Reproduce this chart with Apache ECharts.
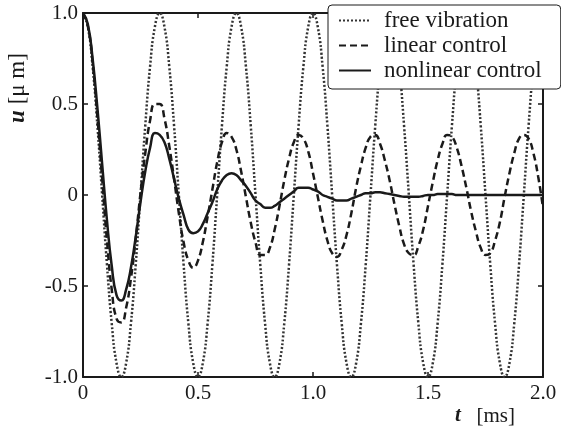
<!DOCTYPE html>
<html>
<head>
<meta charset="utf-8">
<script src="https://cdn.jsdelivr.net/npm/echarts@6/dist/echarts.min.js"></script>
<style>
  html, body { margin: 0; padding: 0; background: #fff; }
  #chart { width: 561px; height: 428px; }
</style>
</head>
<body>
<div id="chart"></div>
<script>
// time samples [ms]
const times = [0, 0.0208, 0.0417, 0.0625, 0.0833, 0.1042, 0.125, 0.1458, 0.1667, 0.1875, 0.2083, 0.2292,
  0.25, 0.2708, 0.2917, 0.3125, 0.3333, 0.3542, 0.375, 0.3958, 0.4167, 0.4375, 0.4583, 0.4792,
  0.5, 0.5208, 0.5417, 0.5625, 0.5833, 0.6042, 0.625, 0.6458, 0.6667, 0.6875, 0.7083, 0.7292,
  0.75, 0.7708, 0.7917, 0.8125, 0.8333, 0.8542, 0.875, 0.8958, 0.9167, 0.9375, 0.9583, 0.9792,
  1.0, 1.0208, 1.0417, 1.0625, 1.0833, 1.1042, 1.125, 1.1458, 1.1667, 1.1875, 1.2083, 1.2292,
  1.25, 1.2708, 1.2917, 1.3125, 1.3333, 1.3542, 1.375, 1.3958, 1.4167, 1.4375, 1.4583, 1.4792,
  1.5, 1.5208, 1.5417, 1.5625, 1.5833, 1.6042, 1.625, 1.6458, 1.6667, 1.6875, 1.7083, 1.7292,
  1.75, 1.7708, 1.7917, 1.8125, 1.8333, 1.8542, 1.875, 1.8958, 1.9167, 1.9375, 1.9583, 1.9792, 2.0]

// u [um]
const freeVibration = [
  1, 0.924, 0.707, 0.383, 0, -0.383, -0.707, -0.924, -1, -0.924, -0.707, -0.383, 0, 0.383, 0.707, 0.924,
  1, 0.924, 0.707, 0.383, 0, -0.383, -0.707, -0.924, -1, -0.924, -0.707, -0.383, 0, 0.383, 0.707, 0.924,
  1, 0.924, 0.707, 0.383, 0, -0.383, -0.707, -0.924, -1, -0.924, -0.707, -0.383, 0, 0.383, 0.707, 0.924,
  1, 0.924, 0.707, 0.383, 0, -0.383, -0.707, -0.924, -1, -0.924, -0.707, -0.383, 0, 0.383, 0.707, 0.924,
  1, 0.924, 0.707, 0.383, 0, -0.383, -0.707, -0.924, -1, -0.924, -0.707, -0.383, 0, 0.383, 0.707, 0.924,
  1, 0.924, 0.707, 0.383, 0, -0.383, -0.707, -0.924, -1, -0.924, -0.707, -0.383, 0, 0.383, 0.707, 0.924,
  1]

const linearControl = [
  1.0, 0.93, 0.73, 0.43, 0.09, -0.25, -0.52, -0.68, -0.70, -0.62, -0.46, -0.24,
  0.01, 0.23, 0.41, 0.50, 0.50, 0.42, 0.27, 0.09, -0.10, -0.26, -0.36, -0.40,
  -0.36, -0.26, -0.12, 0.03, 0.18, 0.29, 0.34, 0.32, 0.25, 0.13, -0.01, -0.15,
  -0.26, -0.33, -0.33, -0.29, -0.19, -0.06, 0.08, 0.20, 0.29, 0.33, 0.31, 0.24,
  0.12, -0.01, -0.14, -0.25, -0.32, -0.34, -0.30, -0.22, -0.10, 0.04, 0.16, 0.26,
  0.32, 0.33, 0.28, 0.19, 0.08, -0.05, -0.17, -0.27, -0.32, -0.33, -0.28, -0.19,
  -0.06, 0.07, 0.19, 0.28, 0.33, 0.32, 0.26, 0.16, 0.04, -0.09, -0.20, -0.29,
  -0.33, -0.32, -0.25, -0.15, -0.01, 0.12, 0.23, 0.31, 0.33, 0.31, 0.23, 0.10, -0.07]

const nonlinearControl = [
  1.0, 0.94, 0.75, 0.48, 0.17, -0.14, -0.39, -0.55, -0.58, -0.52, -0.40, -0.23,
  -0.04, 0.13, 0.26, 0.34, 0.33, 0.29, 0.20, 0.09, -0.02, -0.11, -0.19, -0.21,
  -0.20, -0.16, -0.10, -0.04, 0.03, 0.08, 0.11, 0.12, 0.11, 0.08, 0.05, 0.01,
  -0.03, -0.05, -0.07, -0.07, -0.06, -0.04, -0.02, 0.00, 0.02, 0.04, 0.04, 0.04,
  0.03, 0.02, 0.00, -0.01, -0.02, -0.03, -0.03, -0.03, -0.02, -0.01, 0.00, 0.01,
  0.01, 0.015, 0.015, 0.01, 0.005, 0, -0.005, -0.01, -0.01, -0.01, -0.01, -0.005,
  0, 0, 0.005, 0.005, 0.005, 0.005, 0, 0, 0, 0, 0, 0,
  0, 0, 0, 0, 0, 0, 0, 0, 0, 0, 0, 0, 0]

const xTickLabels = { "0": "0", "0.5": "0.5", "1": "1.0", "1.5": "1.5", "2": "2.0" }
const yTickLabels = { "-1": "-1.0", "-0.5": "-0.5", "0": "0", "0.5": "0.5", "1": "1.0" }
const seriesNames = ["free vibration", "linear control", "nonlinear control"]

const serif = "'Liberation Serif', 'Times New Roman', serif"
const ink = "#1a1a1a"

const pairs = (ys) => times.map((t, i) => [t, ys[i]])

const chart = echarts.init(document.getElementById("chart"), null, { renderer: "canvas" })

const axisLine = { show: true, onZero: false, lineStyle: { color: ink, width: 2 } }
const axisTick = { show: true, inside: true, length: 5, lineStyle: { color: ink, width: 1.5 } }

// top / right axes only give the closed box and its inward ticks
const frameAxis = {
  axisLine: axisLine,
  axisTick: axisTick,
  axisLabel: { show: false },
  splitLine: { show: false }
}

const option = {
  animation: false,
  backgroundColor: "#fff",
  grid: { left: 83, right: 18, top: 13, bottom: 51 },
  xAxis: [
    {
      type: "value", min: 0, max: 2, interval: 0.5,
      axisLine: axisLine,
      axisTick: axisTick,
      axisLabel: {
        color: ink, fontFamily: serif, fontSize: 21, margin: 6,
        formatter: (v) => xTickLabels[String(v)] ?? String(v)
      },
      splitLine: { show: false }
    },
    { type: "value", position: "top", min: 0, max: 2, interval: 0.5, ...frameAxis }
  ],
  yAxis: [
    {
      type: "value", min: -1, max: 1, interval: 0.5,
      axisLine: axisLine,
      axisTick: axisTick,
      axisLabel: {
        color: ink, fontFamily: serif, fontSize: 21, margin: 5,
        formatter: (v) => yTickLabels[String(v)] ?? String(v)
      },
      splitLine: { show: false }
    },
    { type: "value", position: "right", min: -1, max: 1, interval: 0.5, ...frameAxis }
  ],
  legend: {
    data: seriesNames,
    orient: "vertical",
    left: 328,
    top: 5,
    padding: [4, 19, 7, 10],
    itemGap: 2,
    itemWidth: 32,
    itemHeight: 14,
    itemStyle: { opacity: 0 },
    backgroundColor: "#fff",
    borderColor: ink,
    borderWidth: 1,
    borderRadius: 4,
    textStyle: { color: ink, fontFamily: serif, fontSize: 23, lineHeight: 23, padding: [0, 0, 0, 8] },
    z: 10
  },
  graphic: [
    {
      type: "text", x: 18, y: 88, rotation: Math.PI / 2,
      style: {
        text: "{u|u} [μ m]",
        fill: ink, font: "23px " + serif, align: "center", verticalAlign: "middle",
        rich: { u: { fontStyle: "italic", fontWeight: "bold", fontSize: 23, fontFamily: serif, fill: ink } }
      }
    },
    {
      type: "text", x: 485, y: 416,
      style: {
        text: "{t|t}   [ms]",
        fill: ink, font: "21px " + serif, align: "center", verticalAlign: "middle",
        rich: { t: { fontStyle: "italic", fontWeight: "bold", fontSize: 21, fontFamily: serif, fill: ink } }
      }
    }
  ],
  series: [
    {
      name: seriesNames[0], type: "line", data: pairs(freeVibration),
      smooth: true, symbol: "none",
      lineStyle: { color: "#333", width: 2.5, type: [2, 2] },
      itemStyle: { color: "#333" }
    },
    {
      name: seriesNames[1], type: "line", data: pairs(linearControl),
      smooth: true, symbol: "none",
      lineStyle: { color: ink, width: 2.5, type: [7, 4] },
      itemStyle: { color: ink }
    },
    {
      name: seriesNames[2], type: "line", data: pairs(nonlinearControl),
      smooth: true, symbol: "none",
      lineStyle: { color: ink, width: 2.5, type: "solid" },
      itemStyle: { color: ink }
    }
  ]
}

chart.setOption(option)
</script>
</body>
</html>
